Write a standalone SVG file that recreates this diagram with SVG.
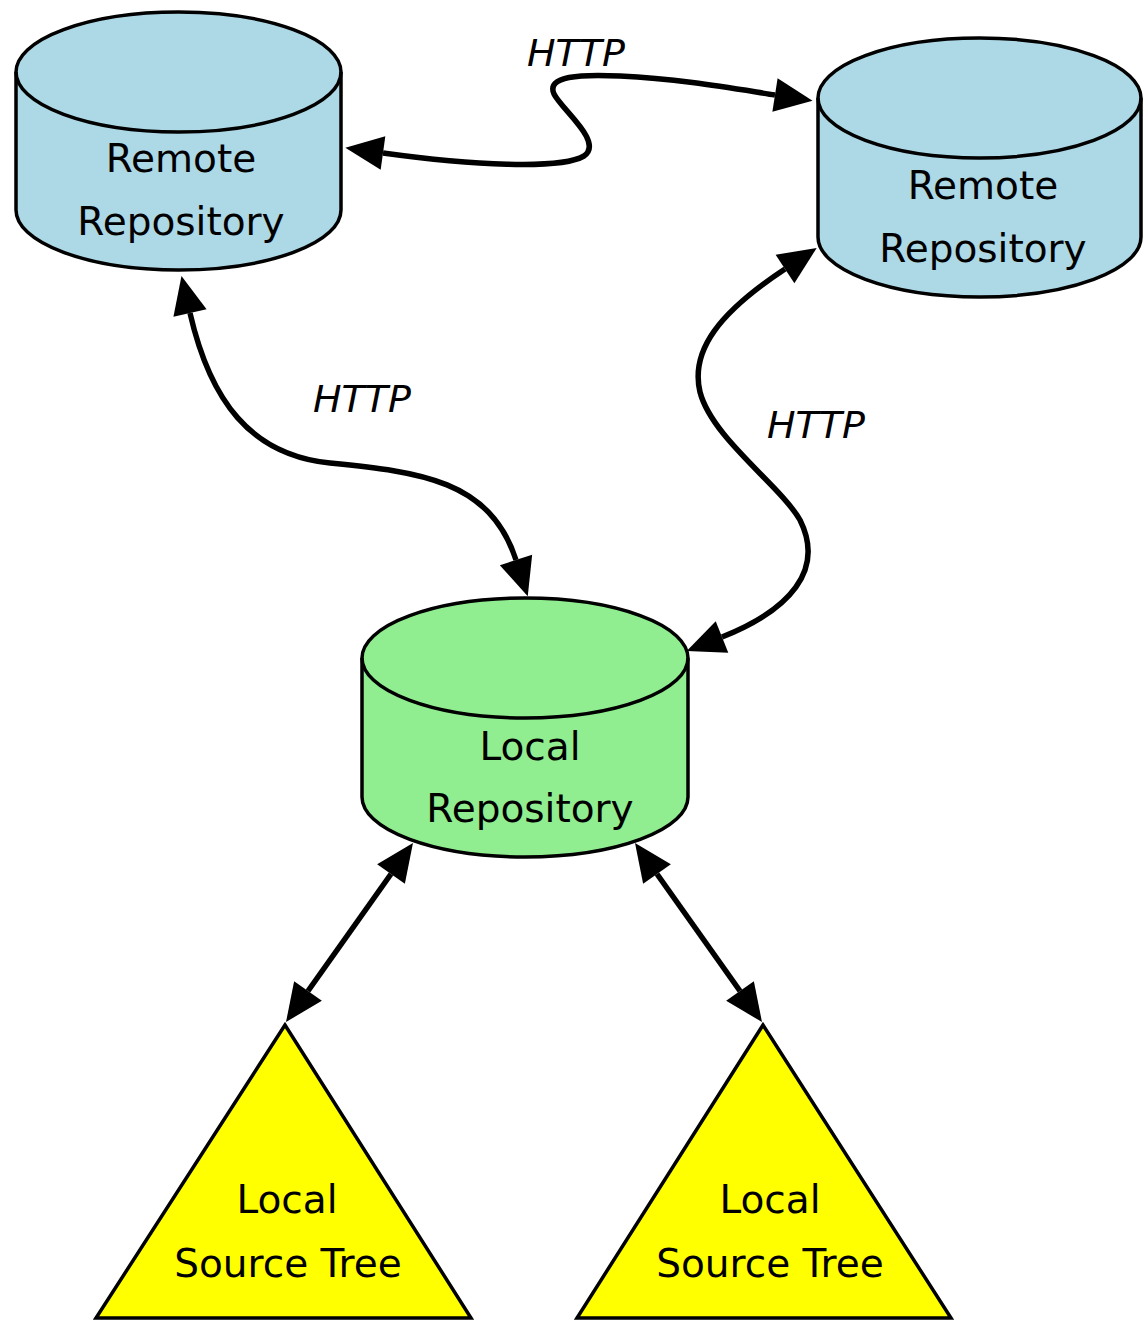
<svg xmlns="http://www.w3.org/2000/svg" width="1145" height="1326" viewBox="0 0 1145 1326">
<defs>
<style>
.node{stroke:#000;stroke-width:3.5}
.remote{fill:#add8e6}
.local{fill:#90ee90}
.tree{fill:#ffff00;stroke-linejoin:miter}
.lbl{font-family:"DejaVu Sans",sans-serif;font-size:39px;fill:#000;text-anchor:middle}
.elbl{font-family:"DejaVu Sans",sans-serif;font-size:38px;font-style:italic;fill:#000;text-anchor:middle}
.edge{fill:none;stroke:#000;stroke-width:5.5;marker-start:url(#arr);marker-end:url(#arr)}
</style>
<marker id="arr" markerUnits="userSpaceOnUse" markerWidth="40" markerHeight="36" refX="0" refY="17" orient="auto-start-reverse" overflow="visible">
<path d="M0,0 L38,17 L0,34 Z" fill="#000"/>
</marker>
</defs>
<rect width="1145" height="1326" fill="#fff"/>
<g id="connectors">
<path class="edge" d="M383,153 C470,165 560,170 584,156 C604,142 562,110 554,94 C546,76 580,74 620,76 C680,79 730,88 775,95"/>
<path class="edge" d="M190,313 C210,400 250,455 330,463 C420,472 490,480 516,560"/>
<path class="edge" d="M785,269 C720,312 690,350 700,392 C712,438 780,485 800,520 C825,570 790,610 722,637"/>
<path class="edge" d="M391,874 L308,991"/>
<path class="edge" d="M657,874 L740,991"/>
<text class="elbl" x="576" y="66">HTTP</text>
<text class="elbl" x="362" y="412">HTTP</text>
<text class="elbl" x="816" y="438">HTTP</text>
</g>
<g id="remote1">
<path class="node remote" d="M16,72 A162.5,60 0 0 1 341,72 L341,210 A162.5,60 0 0 1 16,210 Z"/>
<path class="node" fill="none" d="M16,72 A162.5,60 0 0 0 341,72"/>
<text class="lbl" x="181" y="172">Remote</text>
<text class="lbl" x="181" y="235">Repository</text>
</g>
<g id="remote2">
<path class="node remote" d="M818,98 A161.5,60 0 0 1 1141,98 L1141,237 A161.5,60 0 0 1 818,237 Z"/>
<path class="node" fill="none" d="M818,98 A161.5,60 0 0 0 1141,98"/>
<text class="lbl" x="983" y="199">Remote</text>
<text class="lbl" x="983" y="262">Repository</text>
</g>
<g id="localrepo">
<path class="node local" d="M362,658 A163,60 0 0 1 688,658 L688,797 A163,60 0 0 1 362,797 Z"/>
<path class="node" fill="none" d="M362,658 A163,60 0 0 0 688,658"/>
<text class="lbl" x="530" y="760">Local</text>
<text class="lbl" x="530" y="822">Repository</text>
</g>
<g id="tree1">
<polygon class="node tree" points="285,1025 96,1318 471,1318"/>
<text class="lbl" x="287" y="1213">Local</text>
<text class="lbl" x="288" y="1277">Source Tree</text>
</g>
<g id="tree2">
<polygon class="node tree" points="763,1025 577,1318 951,1318"/>
<text class="lbl" x="770" y="1213">Local</text>
<text class="lbl" x="770" y="1277">Source Tree</text>
</g>
</svg>
